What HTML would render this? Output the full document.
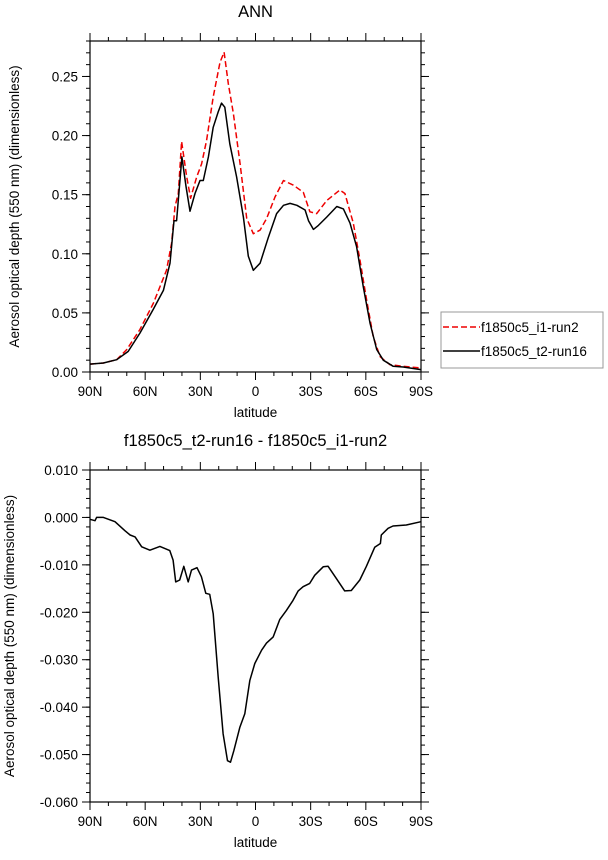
<!DOCTYPE html>
<html><head><meta charset="utf-8"><style>
html,body{margin:0;padding:0;background:#fff;}
svg{display:block;font-family:"Liberation Sans",sans-serif;}
</style></head><body>
<svg id="chart" width="608" height="860" viewBox="0 0 608 860"></svg>
<script>
// ---- Top panel data ----
const latBlack = [90,82.7,75.5,69.2,62.8,55.6,50.1,46.5,44.3,42.9,40,37.8,35.6,32.9,30.2,28.4,25.6,23,20.3,18.5,16.7,14,10.3,6.6,3.9,1.2,-2.5,-7,-11.5,-15.2,-18.8,-22.5,-27,-28.8,-31.5,-34.2,-38.7,-44.2,-47.8,-51.4,-55,-58.6,-62.3,-65.9,-69.5,-74.9,-80.3,-89.9];
const valBlack = [0.0067,0.0076,0.0104,0.0174,0.033,0.053,0.069,0.092,0.128,0.128,0.182,0.157,0.136,0.151,0.162,0.162,0.182,0.207,0.22,0.2275,0.224,0.193,0.165,0.131,0.098,0.086,0.092,0.114,0.134,0.141,0.1426,0.141,0.137,0.128,0.1206,0.124,0.131,0.14,0.138,0.126,0.106,0.072,0.041,0.019,0.010,0.0048,0.0042,0.002];
const latRed = [90,82.7,75.5,70,62.8,55.6,48.4,45.6,43.8,42,40.2,37.4,35.3,32,29.3,26.6,23,19.3,17.1,14.8,12,8.4,4.8,1.2,-2.5,-6.1,-10.6,-15.2,-20.6,-26,-29.6,-33.3,-38.7,-45.9,-48.6,-53.2,-56.8,-60.4,-64,-67.7,-73.1,-80.3,-89.9];
const valRed = [0.0067,0.0076,0.0104,0.019,0.036,0.058,0.086,0.109,0.14,0.151,0.195,0.165,0.147,0.165,0.176,0.196,0.2326,0.262,0.2705,0.244,0.2185,0.176,0.130,0.117,0.12,0.130,0.148,0.162,0.158,0.152,0.1355,0.134,0.145,0.154,0.151,0.126,0.095,0.061,0.030,0.013,0.0062,0.0048,0.0034];
// ---- Bottom panel data ----
const latDiff = [90,87.3,86.4,82.7,76.4,71,68.2,65.5,61.9,57.4,52,46.6,44.8,43.4,41.2,39,36.6,34.8,31.8,29.4,27,24.9,23,20.3,17.6,15.2,13.6,11.8,8.5,5.8,3.1,0.4,-3.3,-6,-9.6,-13.2,-16.8,-20.4,-23.2,-25.9,-29.5,-32.2,-36.8,-39.5,-44,-48.5,-52.1,-56.7,-60.3,-64.8,-67.9,-68.4,-72.1,-74.8,-82,-90];
const valDiff = [-0.0004,-0.0007,0,0,-0.0009,-0.0028,-0.0037,-0.0041,-0.0062,-0.0069,-0.0061,-0.007,-0.009,-0.0136,-0.0132,-0.0103,-0.0136,-0.0111,-0.0106,-0.0125,-0.016,-0.0162,-0.0203,-0.0337,-0.0456,-0.0513,-0.0516,-0.0492,-0.0442,-0.0414,-0.0344,-0.0308,-0.028,-0.0265,-0.0252,-0.0215,-0.0196,-0.0175,-0.0155,-0.0146,-0.0139,-0.0122,-0.0104,-0.0103,-0.0129,-0.0155,-0.0154,-0.0132,-0.0103,-0.0063,-0.0055,-0.0037,-0.0023,-0.0018,-0.0016,-0.0009];
const xTickVals = [90,60,30,0,-30,-60,-90];
const xTickLabels = ["90N","60N","30N","0","30S","60S","90S"];
const yTopTicks = [0,0.05,0.10,0.15,0.20,0.25];
const yTopLabels = ["0.00","0.05","0.10","0.15","0.20","0.25"];
const yBotTicks = [0.01,0,-0.01,-0.02,-0.03,-0.04,-0.05,-0.06];
const yBotLabels = ["0.010","0.000","-0.010","-0.020","-0.030","-0.040","-0.050","-0.060"];

const NS="http://www.w3.org/2000/svg";
const svg=document.getElementById('chart');
function mk(tag,attrs,parent){const e=document.createElementNS(NS,tag);for(const k in attrs)e.setAttribute(k,attrs[k]);(parent||svg).appendChild(e);return e;}

function panel(cfg){
  const L=90,R=421,T=cfg.top,B=cfg.bottom;
  const xs=lat=>L+(90-lat)/180*(R-L);
  const ys=v=>B-(v-cfg.ymin)/(cfg.ymax-cfg.ymin)*(B-T);
  const g=mk('g',{});
  
  
  for(let lat=90;lat>=-90;lat-=10){
    const x=xs(lat);const major=lat%30===0;const len=major?8:4;
    const t1=mk('line',{x1:x,y1:B,x2:x,y2:B+len,stroke:'#000','stroke-width':1},g);
    
    const t2=mk('line',{x1:x,y1:T,x2:x,y2:T-len,stroke:'#000','stroke-width':1},g);
    
  }
  xTickVals.forEach((v,i)=>{
    const t=mk('text',{x:xs(v),y:B+24,'font-size':13.5,'text-anchor':'middle'},g);
    t.textContent=xTickLabels[i];
    
  });
  const n=Math.round((cfg.ymax-cfg.ymin)/cfg.minor);
  for(let i=0;i<=n;i++){
    const v=cfg.ymin+i*cfg.minor;const y=ys(v);
    const t1=mk('line',{x1:L,y1:y,x2:L-4,y2:y,stroke:'#000'},g);
    
    const t2=mk('line',{x1:R,y1:y,x2:R+4,y2:y,stroke:'#000'},g);
    
  }
  cfg.ticks.forEach((v,i)=>{
    const y=ys(v);
    const t1=mk('line',{x1:L,y1:y,x2:L-8,y2:y,stroke:'#000'},g);
    
    const t2=mk('line',{x1:R,y1:y,x2:R+8,y2:y,stroke:'#000'},g);
    
    const t=mk('text',{x:L-12,y:y+5,'font-size':13.5,'text-anchor':'end'},g);
    t.textContent=cfg.labels[i];
    
  });
  cfg.series.forEach(s=>{
    const d=s.lat.map((la,i)=>(i?'L':'M')+xs(la).toFixed(1)+','+ys(s.val[i]).toFixed(1)).join(' ');
    const p=mk('path',{d:d,fill:'none',stroke:s.color,'stroke-width':1.5,'stroke-dasharray':s.dash||'none','stroke-linejoin':'round'},g);
    
  });
  const fr=mk('rect',{x:L,y:T,width:R-L,height:B-T,fill:'none',stroke:'#000','stroke-width':1.2},g);
  
  const tt=mk('text',{x:(L+R)/2,y:T-24,'font-size':16.5,'text-anchor':'middle'},g);
  tt.textContent=cfg.title;
  
  const xl=mk('text',{x:(L+R)/2,y:B+45,'font-size':13.5,'text-anchor':'middle'},g);
  xl.textContent='latitude';
  
  const cy=(T+B)/2;
  const yl=mk('text',{x:0,y:0,'font-size':13.5,'text-anchor':'middle',transform:`translate(${cfg.ylx},${cy}) rotate(-90)`},g);
  yl.textContent='Aerosol optical depth (550 nm) (dimensionless)';
  
}
panel({name:'top-panel',top:41,bottom:372,ymin:0,ymax:0.28,minor:0.01,ticks:yTopTicks,labels:yTopLabels,title:'ANN',ylx:19,
  series:[{name:'series-f1850c5-i1-run2',lat:latRed,val:valRed,color:'#e00',dash:'6,3'},{name:'series-f1850c5-t2-run16',lat:latBlack,val:valBlack,color:'#000'}]});
panel({name:'bottom-panel',top:470,bottom:802,ymin:-0.06,ymax:0.01,minor:0.002,ticks:yBotTicks,labels:yBotLabels,title:'f1850c5_t2-run16 - f1850c5_i1-run2',ylx:14,
  series:[{name:'series-difference',lat:latDiff,val:valDiff,color:'#000'}]});
const lg=mk('g',{});


const lb=mk('rect',{x:441,y:312,width:162,height:56,fill:'#fff',stroke:'#999'},lg);

const l1=mk('line',{x1:443,y1:327,x2:480,y2:327,stroke:'#e00','stroke-width':1.5,'stroke-dasharray':'6,3'},lg);

const t1=mk('text',{x:481,y:332,'font-size':13.5},lg);t1.textContent='f1850c5_i1-run2';

const l2=mk('line',{x1:443,y1:351,x2:480,y2:351,stroke:'#000','stroke-width':1.5},lg);

const t2=mk('text',{x:481,y:356,'font-size':13.5},lg);t2.textContent='f1850c5_t2-run16';

</script>
</body></html>
